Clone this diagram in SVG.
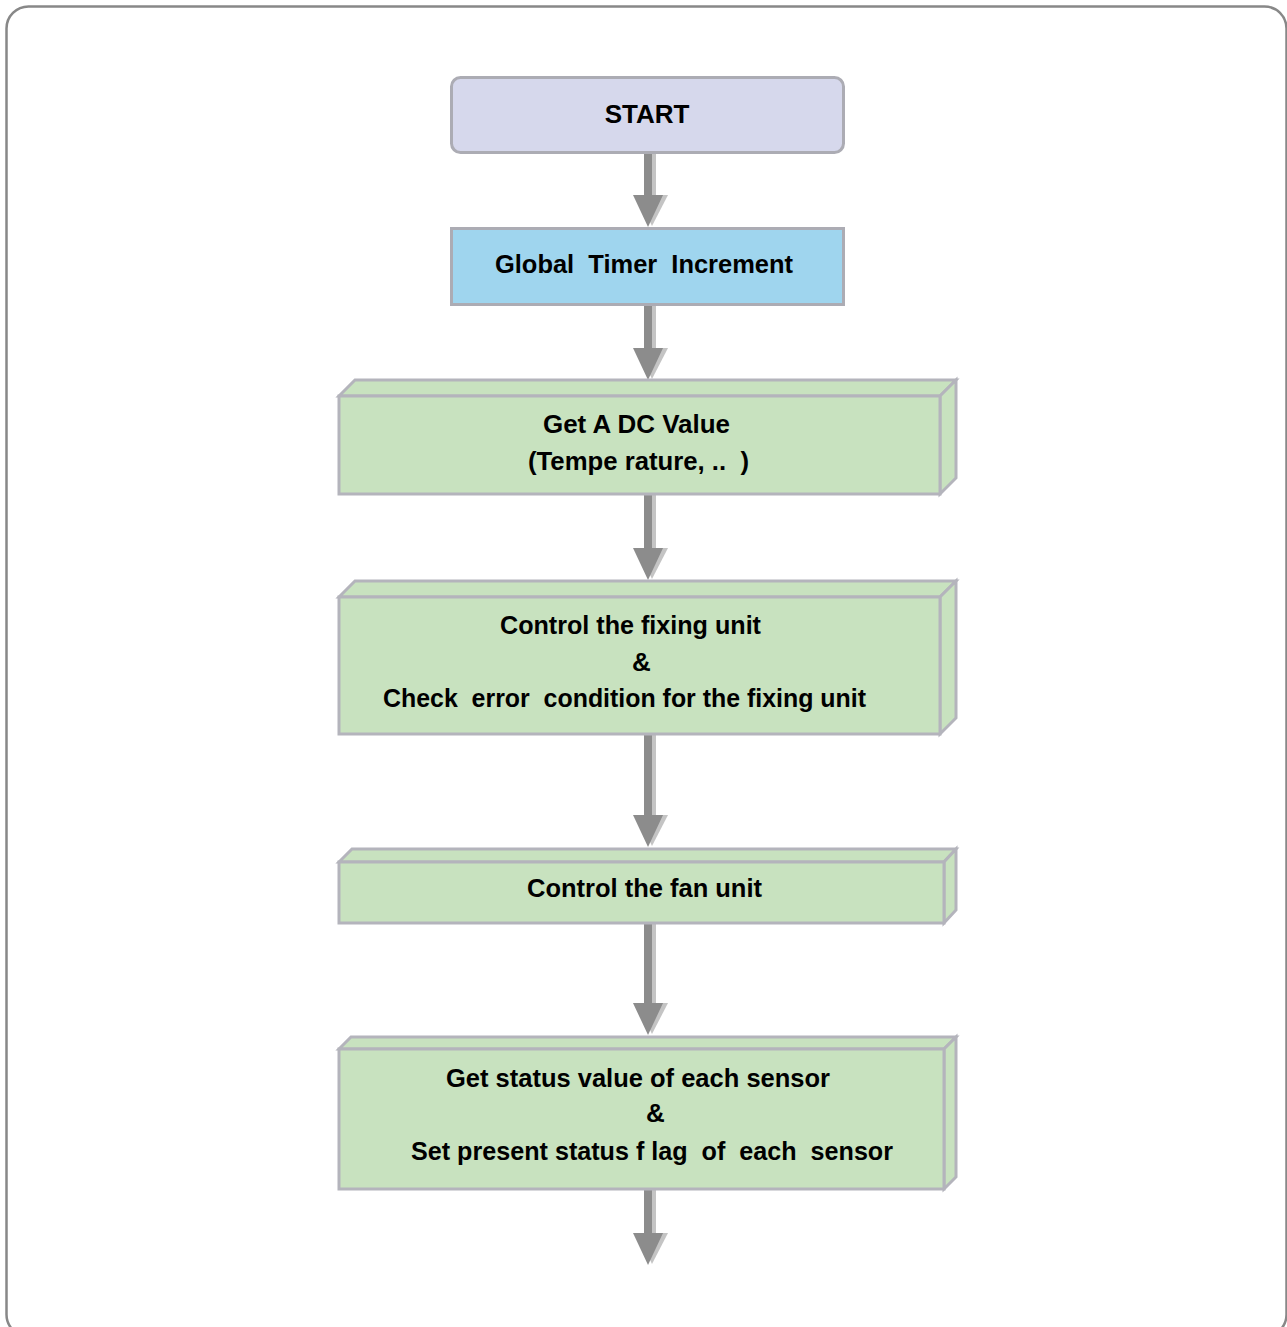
<svg xmlns="http://www.w3.org/2000/svg" width="1287" height="1327" viewBox="0 0 1287 1327">
<style>
text{font-family:"Liberation Sans",Arial,sans-serif;font-weight:bold;fill:#000;}
.t{font-size:26px;}
.box{fill:#c8e2bf;stroke:#b4b4bc;stroke-width:3;stroke-linejoin:miter;}
.sd{fill:#8c8c8c;}
.sl{fill:#c4c4c4;}
</style>
<defs>
<g id="arrowhead">
<polygon class="sl" points="-11,0 20,0 4,31"/>
<polygon class="sd" points="-15,0 15,0 0,32"/>
</g>
</defs>
<rect x="6.5" y="6.5" width="1280" height="1330" rx="22" ry="22" fill="#fff" stroke="#888" stroke-width="2.5"/>

<g id="connectors">
<g id="c1"><rect class="sd" x="644" y="153" width="8" height="44"/><rect class="sl" x="652" y="153" width="4" height="44"/><use href="#arrowhead" x="648" y="195"/></g>
<g id="c2"><rect class="sd" x="644" y="305" width="8" height="44"/><rect class="sl" x="652" y="305" width="4" height="44"/><use href="#arrowhead" x="648" y="348"/></g>
<g id="c3"><rect class="sd" x="644" y="495" width="8" height="54"/><rect class="sl" x="652" y="495" width="4" height="54"/><use href="#arrowhead" x="648" y="548"/></g>
<g id="c4"><rect class="sd" x="644" y="735" width="8" height="81"/><rect class="sl" x="652" y="735" width="4" height="81"/><use href="#arrowhead" x="648" y="815"/></g>
<g id="c5"><rect class="sd" x="644" y="924" width="8" height="80"/><rect class="sl" x="652" y="924" width="4" height="80"/><use href="#arrowhead" x="648" y="1003"/></g>
<g id="c6"><rect class="sd" x="644" y="1190" width="8" height="44"/><rect class="sl" x="652" y="1190" width="4" height="44"/><use href="#arrowhead" x="648" y="1233"/></g>
</g>

<g id="start">
<rect x="451.5" y="77.5" width="392" height="75" rx="9" ry="9" fill="#d6d8ec" stroke="#acacb4" stroke-width="3"/>
<text x="647" y="123" font-size="26" text-anchor="middle">START</text>
</g>

<g id="timer">
<rect x="451.5" y="228.5" width="392" height="76" fill="#9fd5ee" stroke="#acacb4" stroke-width="3"/>
<text x="495" y="273" font-size="26" textLength="298" lengthAdjust="spacingAndGlyphs" xml:space="preserve">Global  Timer  Increment</text>
</g>

<g id="adc">
<polygon class="box" points="339,396 355,380 956,380 940,396"/>
<polygon class="box" points="940,396 956,380 956,478 940,494"/>
<rect class="box" x="339" y="396" width="601" height="98"/>
<text class="t" x="543" y="433" textLength="187" lengthAdjust="spacingAndGlyphs">Get A DC Value</text>
<text class="t" x="528" y="470" textLength="221" lengthAdjust="spacingAndGlyphs" xml:space="preserve">(Tempe rature, ..  )</text>
</g>

<g id="fixing">
<polygon class="box" points="339,597 355,581 956,581 940,597"/>
<polygon class="box" points="940,597 956,581 956,718 940,734"/>
<rect class="box" x="339" y="597" width="601" height="137"/>
<text class="t" x="500" y="634" textLength="261" lengthAdjust="spacingAndGlyphs">Control the fixing unit</text>
<text class="t" x="632" y="671">&amp;</text>
<text class="t" x="383" y="707" textLength="483" lengthAdjust="spacingAndGlyphs" xml:space="preserve">Check  error  condition for the fixing unit</text>
</g>

<g id="fan">
<polygon class="box" points="339,862 352,849 956,849 944,862"/>
<polygon class="box" points="944,862 956,849 956,910 944,923"/>
<rect class="box" x="339" y="862" width="605" height="61"/>
<text class="t" x="527" y="897" textLength="235" lengthAdjust="spacingAndGlyphs">Control the fan unit</text>
</g>

<g id="sensor">
<polygon class="box" points="339,1049 351,1037 956,1037 944,1049"/>
<polygon class="box" points="944,1049 956,1037 956,1177 944,1189"/>
<rect class="box" x="339" y="1049" width="605" height="140"/>
<text class="t" x="446" y="1087" textLength="384" lengthAdjust="spacingAndGlyphs">Get status value of each sensor</text>
<text class="t" x="646" y="1122">&amp;</text>
<text class="t" x="411" y="1160" textLength="482" lengthAdjust="spacingAndGlyphs" xml:space="preserve">Set present status f lag  of  each  sensor</text>
</g>
</svg>
